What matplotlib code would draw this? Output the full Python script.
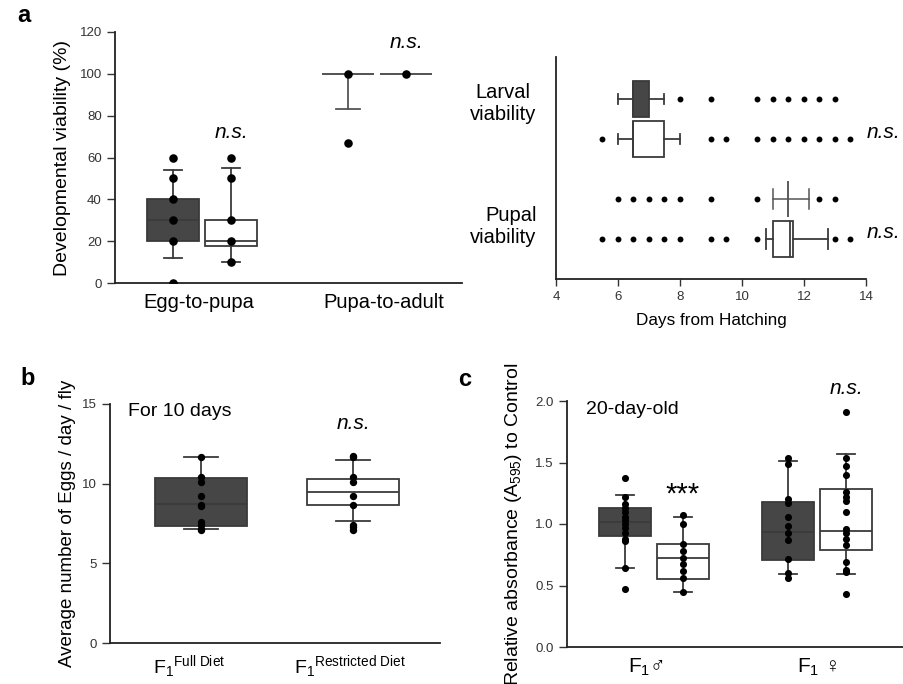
import matplotlib
matplotlib.use('Agg')
import matplotlib.pyplot as plt

plt.rcParams['font.family'] = ['Liberation Sans', 'DejaVu Sans']
plt.rcParams['mathtext.fontset'] = 'custom'
plt.rcParams['mathtext.rm'] = 'Liberation Sans'
plt.rcParams['mathtext.it'] = 'Liberation Sans:italic'

DARK = '#464646'
EDGE = '#3a3a3a'
TICKC = '#333333'

# ---- panel a (left): developmental viability (%) ----
via_groups = ['Egg-to-pupa', 'Pupa-to-adult']
# stats: q1, median, q3, whisker low, whisker high
egg_full_stats = [20, 30, 40, 12, 54]
egg_restr_stats = [17.5, 20, 30, 10, 55]
pupa_full_stats = [100, 100, 100, 83.3, 100]
pupa_restr_stats = [100, 100, 100, 100, 100]
egg_full_pts = [0, 20, 30, 40, 50, 60]
egg_restr_pts = [10, 20, 30, 50, 60]
pupa_full_pts = [66.7, 100]
pupa_restr_pts = [100]

# ---- panel a (right): days from hatching ----
row_labels = ['Larval\nviability', 'Pupal\nviability']
larval_full_stats = [6.5, 6.5, 7.0, 6.0, 7.5]
larval_restr_stats = [6.5, 6.5, 7.5, 6.0, 8.0]
pupal_full_stats = [11.5, 11.5, 11.5, 11.0, 12.15]
pupal_restr_stats = [11.0, 11.55, 11.63, 10.76, 12.76]
larval_full_pts = [8, 9, 10.5, 11, 11.5, 12, 12.5, 13]
larval_restr_pts = [5.5, 9, 9.5, 10.5, 11, 11.5, 12, 12.5, 13, 13.5]
pupal_full_pts = [6, 6.5, 7, 7.5, 8, 9, 10.5, 12.5, 13]
pupal_restr_pts = [5.5, 6, 6.5, 7, 7.5, 8, 9, 9.5, 10.5, 13, 13.5]

# ---- panel b: eggs / day / fly ----
diet_labels = [r'F$_1$$^{\mathrm{Full\ Diet}}$', r'F$_1$$^{\mathrm{Restricted\ Diet}}$']
eggs_full_stats = [7.34, 8.72, 10.36, 7.15, 11.65]
eggs_restr_stats = [8.66, 9.48, 10.29, 7.64, 11.46]
eggs_full_pts = [11.65, 10.42, 10.1, 9.2, 8.68, 8.58, 7.57, 7.43, 7.15, 7.07]
eggs_restr_pts = [11.76, 11.67, 10.42, 10.08, 9.2, 8.64, 7.43, 7.28, 7.07]

# ---- panel c: relative absorbance ----
sex_labels = [r'F$_1$♂', r'F$_1$ ♀']
male_full_stats = [0.90, 1.02, 1.134, 0.646, 1.237]
male_restr_stats = [0.554, 0.722, 0.836, 0.45, 1.058]
female_full_stats = [0.711, 0.936, 1.18, 0.597, 1.514]
female_restr_stats = [0.79, 0.947, 1.284, 0.594, 1.566]
male_full_pts = [1.376, 1.22, 1.16, 1.13, 1.10, 1.06, 1.03, 1.0, 0.97, 0.93, 0.88, 0.86, 0.646, 0.472]
male_restr_pts = [1.077, 1.0, 0.84, 0.78, 0.727, 0.673, 0.62, 0.56, 0.45]
female_full_pts = [1.533, 1.487, 1.2, 1.167, 1.058, 0.985, 0.93, 0.868, 0.716, 0.605, 0.56]
female_restr_pts = [1.908, 1.539, 1.474, 1.395, 1.262, 1.221, 1.186, 1.094, 0.963,
                    0.93, 0.882, 0.828, 0.687, 0.63, 0.61, 0.434]

LAB = 14      # axis label / annotation size
NS = 15


def box(ax, pos, st, fill, width, capw, orient='vertical', ec=EDGE, lw=1.3):
    q1, med, q3, lo, hi = st
    stats = [dict(q1=q1, med=med, q3=q3, whislo=lo, whishi=hi, fliers=[])]
    ax.bxp(stats, positions=[pos], widths=width, capwidths=capw,
           patch_artist=True, showfliers=False, manage_ticks=False,
           orientation=orient,
           boxprops=dict(facecolor=fill, edgecolor=ec, linewidth=lw),
           whiskerprops=dict(color=ec, linewidth=lw),
           capprops=dict(color=ec, linewidth=lw),
           medianprops=dict(color=ec, linewidth=lw))


def dots(ax, pos, vals, s, orient='vertical'):
    if orient == 'vertical':
        ax.scatter([pos] * len(vals), vals, s=s, color='black', zorder=3, linewidths=0)
    else:
        ax.scatter(vals, [pos] * len(vals), s=s, color='black', zorder=3, linewidths=0)


def style(ax):
    for sp in ['top', 'right']:
        ax.spines[sp].set_visible(False)
    for sp in ['left', 'bottom']:
        ax.spines[sp].set_linewidth(1.3)
        ax.spines[sp].set_color('#222222')
    ax.tick_params(axis='y', length=6, width=1.0, labelsize=9.5, colors=TICKC, labelcolor=TICKC)


W, H = 904, 684
fig = plt.figure(figsize=(W / 100, H / 100), dpi=100)


def rect(x0, y_bottom, x1, y_top):
    return [x0 / W, 1 - y_bottom / H, (x1 - x0) / W, (y_bottom - y_top) / H]


# ===== panel a left =====
ax1 = fig.add_axes(rect(115, 283, 462, 32))
style(ax1)
off, bw = 0.166, 0.297
box(ax1, 1 - off, egg_full_stats, DARK, bw, 0.1)
box(ax1, 1 + off, egg_restr_stats, 'white', bw, 0.1)
box(ax1, 2 - off, pupa_full_stats, DARK, bw, 0.14, ec='#555555')
box(ax1, 2 + off, pupa_restr_stats, 'white', bw, 0.1, ec='#555555')
dots(ax1, 1 - off, egg_full_pts, 38)
dots(ax1, 1 + off, egg_restr_pts, 38)
dots(ax1, 2 - off, pupa_full_pts, 38)
dots(ax1, 2 + off, pupa_restr_pts, 38)
ax1.set_xlim(0.503, 2.486)
ax1.set_ylim(0, 120)
ax1.set_yticks(range(0, 121, 20))
ax1.set_xticks([0.98, 2.04])
ax1.set_xticklabels(via_groups, fontsize=14.5)
ax1.tick_params(axis='x', length=0, pad=7)
ax1.set_ylabel('Developmental viability (%)', fontsize=LAB, labelpad=6)
ax1.text(1 + off, 72, 'n.s.', style='italic', fontsize=NS, ha='center', va='center')
ax1.text(2 + off, 115, 'n.s.', style='italic', fontsize=NS, ha='center', va='center',
         clip_on=False)
fig.text(17 / W, 1 - 16 / H, 'a', fontsize=17, fontweight='bold', ha='left', va='center')

# ===== panel a right =====
ax2 = fig.add_axes(rect(556, 279, 866, 57))
style(ax2)
hb = 0.9
box(ax2, 4.5, larval_full_stats, DARK, hb, 0.25, orient='horizontal')
box(ax2, 3.5, larval_restr_stats, 'white', hb, 0.25, orient='horizontal')
box(ax2, 2.0, pupal_full_stats, 'white', hb, 0.5, orient='horizontal', ec='#555555', lw=1.1)
box(ax2, 1.0, pupal_restr_stats, 'white', hb, 0.5, orient='horizontal')
dots(ax2, 4.5, larval_full_pts, 18, orient='horizontal')
dots(ax2, 3.5, larval_restr_pts, 18, orient='horizontal')
dots(ax2, 2.0, pupal_full_pts, 18, orient='horizontal')
dots(ax2, 1.0, pupal_restr_pts, 18, orient='horizontal')
ax2.set_xlim(4, 14)
ax2.set_ylim(0, 5.55)
ax2.set_xticks(range(4, 15, 2))
ax2.tick_params(axis='x', length=5, width=1.0, labelsize=9.5, colors=TICKC)
ax2.set_yticks([4.47, 1.4])
ax2.set_yticklabels(row_labels, fontsize=14.5, color='black')
ax2.tick_params(axis='y', length=0, pad=14)
yl = ax2.get_yticklabels()
yl[0].set_multialignment('center')
yl[1].set_multialignment('right')
ax2.set_xlabel('Days from Hatching', fontsize=12.3, labelpad=7)
ax2.text(14.55, 3.65, 'n.s.', style='italic', fontsize=NS, ha='center', va='center',
         clip_on=False)
ax2.text(14.55, 1.17, 'n.s.', style='italic', fontsize=NS, ha='center', va='center',
         clip_on=False)

# ===== panel b =====
ax3 = fig.add_axes(rect(110, 643, 440, 404))
style(ax3)
bw3 = 0.605
box(ax3, 1, eggs_full_stats, DARK, bw3, 0.22)
box(ax3, 2, eggs_restr_stats, 'white', bw3, 0.22)
dots(ax3, 1, eggs_full_pts, 28)
dots(ax3, 2, eggs_restr_pts, 28)
ax3.set_xlim(0.401, 2.572)
ax3.set_ylim(0, 15)
ax3.set_yticks([0, 5, 10, 15])
ax3.set_xticks([0.92, 1.98])
ax3.set_xticklabels(diet_labels, fontsize=14)
ax3.tick_params(axis='x', length=0, pad=7)
ax3.set_ylabel('Average number of Eggs / day / fly', fontsize=13.5, labelpad=4)
ax3.text(0.52, 14.55, 'For 10 days', fontsize=LAB, ha='left', va='center')
ax3.text(2, 13.8, 'n.s.', style='italic', fontsize=NS, ha='center', va='center')
fig.text(20 / W, 1 - 378 / H, 'b', fontsize=17, fontweight='bold', ha='left', va='center')

# ===== panel c =====
ax4 = fig.add_axes(rect(567, 647, 904, 401))
style(ax4)
off4, bw4 = 0.178, 0.32
box(ax4, 1 - off4, male_full_stats, DARK, bw4, 0.11)
box(ax4, 1 + off4, male_restr_stats, 'white', bw4, 0.11)
box(ax4, 2 - off4, female_full_stats, DARK, bw4, 0.11)
box(ax4, 2 + off4, female_restr_stats, 'white', bw4, 0.11)
dots(ax4, 1 - off4, male_full_pts, 26)
dots(ax4, 1 + off4, male_restr_pts, 26)
dots(ax4, 2 - off4, female_full_pts, 26)
dots(ax4, 2 + off4, female_restr_pts, 26)
ax4.set_xlim(0.466, 2.534)
ax4.set_ylim(0, 2.0)
ax4.set_yticks([0.0, 0.5, 1.0, 1.5, 2.0])
ax4.set_yticklabels(['0.0', '0.5', '1.0', '1.5', '2.0'])
ax4.set_xticks([0.95, 2])
ax4.set_xticklabels(sex_labels, fontsize=15)
ax4.tick_params(axis='x', length=0, pad=7)
ax4.set_ylabel(r'Relative absorbance (A$_{595}$) to Control', fontsize=LAB, labelpad=8)
ax4.text(0.58, 1.93, '20-day-old', fontsize=LAB, ha='left', va='center')
ax4.text(1 + off4, 1.24, '***', fontsize=21, ha='center', va='center')
ax4.text(2 + off4, 2.1, 'n.s.', style='italic', fontsize=NS, ha='center', va='center',
         clip_on=False)
fig.text(458 / W, 1 - 380 / H, 'c', fontsize=17, fontweight='bold', ha='left', va='center')

fig.savefig('out.png', dpi=100, facecolor='white')
